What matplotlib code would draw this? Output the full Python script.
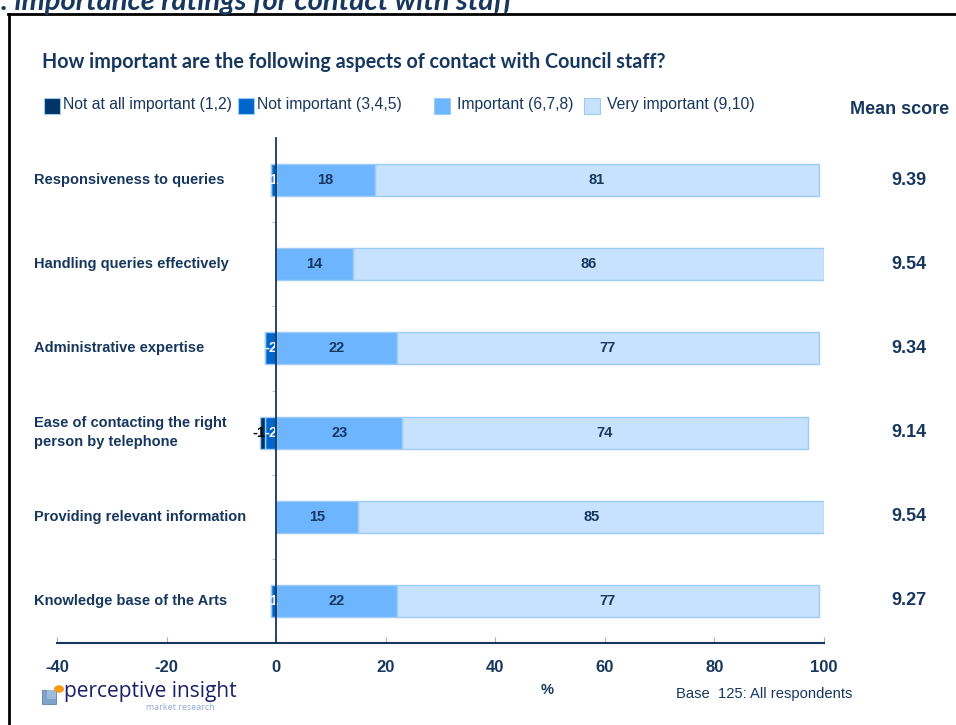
import matplotlib.pyplot as plt
import matplotlib.patches as mpatches
from matplotlib.lines import Line2D
import numpy as np

# survey results, % of respondents (negative side = not important)
categories = ["Responsiveness to queries", "Handling queries effectively",
              "Administrative expertise", "Ease of contacting the right\nperson by telephone",
              "Providing relevant information", "Knowledge base of the Arts"]
not_at_all = [0, 0, 0, -1, 0, 0]
not_important = [-1, 0, -2, -2, 0, -1]
important = [18, 14, 22, 23, 15, 22]
very_important = [81, 86, 77, 74, 85, 77]
mean_scores = ["9.39", "9.54", "9.34", "9.14", "9.54", "9.27"]
# printed labels for the small negative segments
lbl_not_important = ["1", "", "-2", "-2", "", "1"]
lbl_not_at_all = ["", "", "", "-1", "", ""]

legend_names = ["Not at all important (1,2)", "Not important (3,4,5)",
                "Important (6,7,8)", "Very important (9,10)"]
colors = ["#003366", "#0066CC", "#6DB6FF", "#C6E2FF"]
edge = "#9CCBF5"
navy = "#17375E"
arial = ["Liberation Sans", "DejaVu Sans"]

W, H = 956, 725
fig = plt.figure(figsize=(W / 100, H / 100), dpi=100)

def fx(px):
    return px / W

def fy(py):
    return 1 - py / H

ax = fig.add_axes([fx(57), fy(643), fx(824) - fx(57), fy(138) - fy(643)])
y = np.arange(len(categories))
bh = 0.38

ax.barh(y, not_important, height=bh, color=colors[1], edgecolor=edge, lw=1)
ax.barh(y, not_at_all, left=not_important, height=bh, color=colors[0], edgecolor=edge, lw=1)
ax.barh(y, important, height=bh, color=colors[2], edgecolor=edge, lw=1)
ax.barh(y, very_important, left=important, height=bh, color=colors[3], edgecolor=edge, lw=1)

lab_kw = dict(ha="center", va="center", fontsize=10.5, fontweight="bold", family=arial)
for i in y:
    ax.text(important[i] / 2, i, str(important[i]), color=navy, **lab_kw)
    ax.text(important[i] + very_important[i] / 2, i, str(very_important[i]), color=navy, **lab_kw)
    if lbl_not_important[i]:
        ax.text(not_important[i] / 2, i, lbl_not_important[i], color="white", **lab_kw)
    if lbl_not_at_all[i]:
        ax.text(not_important[i] + not_at_all[i] / 2 - 0.6, i, lbl_not_at_all[i],
                color="black", zorder=5, **lab_kw)
    ax.text(-40 - 4.2, i, categories[i], ha="left", va="center", fontsize=10.5,
            fontweight="bold", color=navy, family=arial, linespacing=1.45)
    ax.text(115.5, i, mean_scores[i], ha="center", va="center", fontsize=13,
            fontweight="bold", color=navy, family=arial, clip_on=False)

ax.set_xlim(-40, 100)
ax.set_ylim(len(categories) - 0.5, -0.5)
ax.set_xticks(np.arange(-40, 101, 20))
ax.set_xticklabels([str(v) for v in range(-40, 101, 20)], fontsize=12,
                   fontweight="bold", color=navy, family=arial)
ax.tick_params(axis="x", direction="in", length=4, color="#B0B0B0", pad=12)
ax.set_yticks(np.arange(0.5, len(categories) - 1, 1))
ax.set_yticklabels([])
ax.tick_params(axis="y", direction="out", length=3, color="#C0C0C0")
for s in ["top", "right"]:
    ax.spines[s].set_visible(False)
ax.spines["left"].set_position(("data", 0))
ax.spines["left"].set_color(navy)
ax.spines["left"].set_linewidth(1.3)
ax.spines["left"].set_zorder(4)
ax.spines["bottom"].set_color(navy)
ax.spines["bottom"].set_linewidth(1.5)

# frame around the panel
fig.add_artist(Line2D([fx(9), fx(9)], [fy(14), 0], color="black", lw=2))
fig.add_artist(Line2D([fx(8), 1], [fy(14), fy(14)], color="black", lw=2))

fig.text(fx(513), fy(10), "Figure 3: importance ratings for contact with staff",
         ha="right", va="baseline", fontsize=21, fontweight="bold", style="italic",
         color="#17375E", family=["Lato", "DejaVu Sans"])
fig.text(fx(42), fy(62), "How important are the following aspects of contact with Council staff?",
         ha="left", va="center", fontsize=14.2, fontweight="bold", color=navy,
         family=["Lato", "DejaVu Sans"])

# legend row
sq_x = [44, 238, 434, 584]
for name, c, x0 in zip(legend_names, colors, sq_x):
    fig.add_artist(mpatches.Rectangle((fx(x0), fy(114)), fx(16), 16 / H,
                                      facecolor=c, edgecolor=edge, lw=0.8))
    fig.text(fx(x0 + 19 if x0 < 400 else x0 + 23), fy(105), name, ha="left", va="center",
             fontsize=11.3, color=navy, family=arial)
fig.text(fx(850), fy(109), "Mean score", ha="left", va="center", fontsize=13,
         fontweight="bold", color=navy, family=arial)

fig.text(fx(547), fy(690), "%", ha="center", va="center", fontsize=10.5,
         fontweight="bold", color=navy, family=arial)
fig.text(fx(676), fy(694), "Base  125: All respondents", ha="left", va="center",
         fontsize=10.6, color=navy, family=arial)

# company logo
fig.add_artist(mpatches.Rectangle((fx(42), fy(704)), fx(14), 14 / H,
                                  facecolor="#7FA3C8", edgecolor="#5C83AD", lw=0.6))
fig.add_artist(mpatches.Rectangle((fx(47), fy(699)), fx(9), 9 / H,
                                  facecolor="#9DBBDA", edgecolor="none"))
fig.add_artist(mpatches.Circle((fx(59), fy(689)), 5 / W, facecolor="#F59A1B",
                               edgecolor="none", transform=fig.transFigure))
fig.text(fx(64), fy(691), "perceptive insight", ha="left", va="center", fontsize=15,
         color="#1B1F6B", family=["Open Sans", "DejaVu Sans"])
fig.text(fx(146), fy(707), "market research", ha="left", va="center", fontsize=6.5,
         color="#8FA8D6", family=["Open Sans", "DejaVu Sans"])

fig.savefig("out.png", dpi=100)
